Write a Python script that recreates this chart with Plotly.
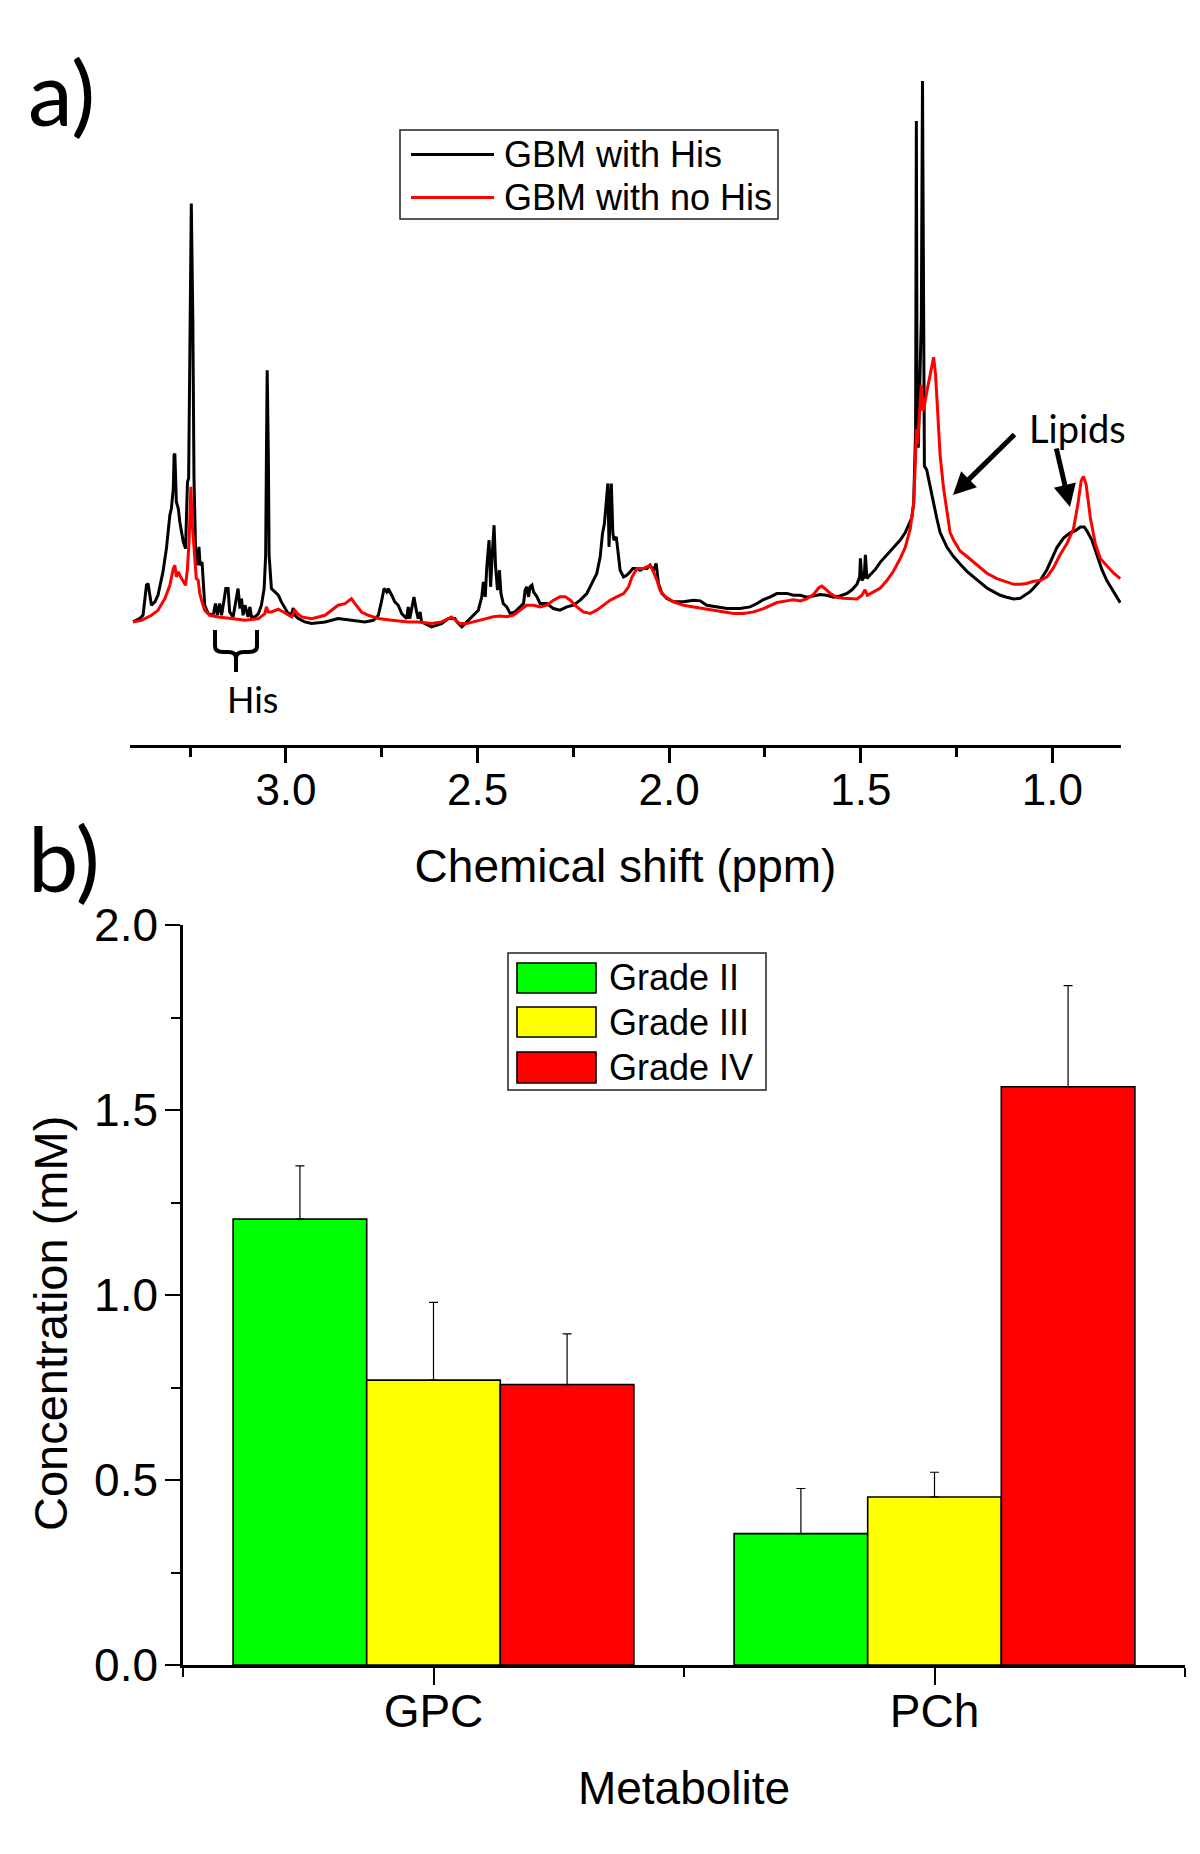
import plotly.graph_objects as go

# ---------------- Panel a: 1H spectra (chemical shift in ppm, intensity in a.u.) ----------------
black_ppm = [3.399, 3.382, 3.373, 3.364, 3.360, 3.355, 3.351, 3.347, 3.342, 3.334, 3.321, 3.312, 3.303, 3.299,
             3.294, 3.292, 3.290, 3.286, 3.281, 3.277, 3.268, 3.262, 3.257, 3.254, 3.250, 3.247, 3.243, 3.240,
             3.236, 3.231, 3.227, 3.224, 3.219, 3.215, 3.212, 3.203, 3.190, 3.184, 3.179, 3.173, 3.168, 3.161,
             3.157, 3.151, 3.147, 3.138, 3.125, 3.120, 3.116, 3.112, 3.107, 3.099, 3.094, 3.090, 3.081, 3.072,
             3.064, 3.057, 3.053, 3.051, 3.049, 3.046, 3.044, 3.038, 3.029, 3.020, 3.012, 3.003, 2.994, 2.985,
             2.981, 2.977, 2.968, 2.951, 2.933, 2.898, 2.864, 2.829, 2.794, 2.772, 2.759, 2.751, 2.744, 2.737,
             2.733, 2.724, 2.716, 2.707, 2.698, 2.685, 2.681, 2.677, 2.666, 2.659, 2.655, 2.650, 2.646, 2.637,
             2.620, 2.594, 2.576, 2.559,
             2.554, 2.541, 2.528, 2.515, 2.506, 2.498, 2.489, 2.485, 2.480, 2.476, 2.470, 2.466, 2.461, 2.457,
             2.453, 2.448, 2.443, 2.439, 2.433, 2.424, 2.415, 2.402, 2.389, 2.380, 2.376, 2.372, 2.367, 2.363,
             2.358, 2.354, 2.345, 2.337, 2.319, 2.302, 2.285, 2.267, 2.250, 2.232, 2.215, 2.198, 2.189, 2.180,
             2.174, 2.169, 2.164, 2.160, 2.157, 2.154, 2.151, 2.147, 2.144, 2.138, 2.134, 2.128, 2.119, 2.111,
             2.102, 2.095, 2.084, 2.076, 2.067, 2.058, 2.050, 2.041, 2.034, 2.028, 2.019, 2.006, 1.989, 1.963,
             1.936, 1.919, 1.902, 1.876, 1.849, 1.815, 1.789, 1.771, 1.754, 1.736, 1.719,
             1.693, 1.676, 1.658, 1.641, 1.624, 1.606, 1.589, 1.571, 1.554, 1.536, 1.523, 1.510, 1.503, 1.501,
             1.497, 1.491, 1.488, 1.484, 1.476, 1.462, 1.449, 1.432, 1.415, 1.397, 1.384, 1.375, 1.367, 1.362,
             1.359, 1.357, 1.355, 1.353, 1.350, 1.347, 1.342, 1.339, 1.336, 1.334, 1.328, 1.319, 1.310, 1.302,
             1.293, 1.275, 1.258, 1.241, 1.223, 1.206, 1.188, 1.171, 1.154, 1.136, 1.119, 1.101, 1.084, 1.067,
             1.058, 1.049, 1.032, 1.014, 1.001, 0.988, 0.971, 0.953, 0.940, 0.927, 0.917, 0.910, 0.897, 0.884,
             0.871, 0.858, 0.840, 0.823]
black_int = [104.1, 106.9, 109.7, 135.1, 136.5, 126.7, 118.2, 119.6, 121.0, 126.7, 146.4, 166.1, 194.3, 200.0,
             216.9, 245.1, 246.5, 205.6, 200.0, 188.7, 171.8, 166.1, 222.5, 225.4, 357.9, 458.0, 357.9, 225.4,
             166.1, 152.0, 167.5, 152.0, 154.8, 137.9, 118.2, 111.1, 109.7, 119.6, 109.7, 119.6, 109.7, 123.8,
             132.3, 132.3, 112.5, 108.3, 132.3, 115.4, 123.8, 109.7, 118.2, 108.3, 116.8, 108.3, 108.3, 111.1,
             118.2, 132.3, 160.5, 245.1, 317.0, 245.1, 160.5, 132.3, 129.5, 126.7, 121.0, 115.4, 111.1, 111.1,
             115.9, 109.7, 106.9, 104.1, 102.7, 104.1, 106.9, 105.5, 104.1, 105.5, 109.7, 121.0, 132.3, 129.5,
             132.3, 126.7, 121.0, 118.2, 111.1, 106.9, 116.8, 106.9, 125.2, 112.5, 106.9, 112.5, 104.1, 102.7,
             99.9, 102.7, 106.9, 106.9,
             104.1, 99.9, 104.1, 108.4, 111.2, 114.0, 125.3, 138.0, 125.3, 150.7, 173.2, 133.8, 164.8, 185.9,
             150.7, 130.9, 147.8, 128.1, 119.7, 116.8, 111.2, 112.6, 116.8, 119.7, 130.9, 133.8, 125.3, 133.8,
             135.2, 129.5, 125.3, 119.7, 119.7, 115.4, 114.0, 116.8, 118.2, 122.5, 128.1, 139.4, 145.0, 159.1,
             178.9, 187.3, 207.1, 221.2, 167.6, 201.4, 221.2, 178.9, 173.2, 176.0, 161.9, 147.8, 142.2, 143.6,
             146.4, 149.3, 149.3, 147.8, 149.3, 149.3, 152.1, 147.8, 153.5, 136.6, 128.1, 123.9, 121.1, 121.1,
             122.5, 121.9, 118.2, 116.8, 115.4, 115.4, 116.8, 119.7, 123.0, 125.3, 128.1,
             128.2, 126.6, 126.6, 125.0, 126.0, 127.2, 126.6, 125.0, 126.0, 128.2, 131.3, 135.9, 142.2, 157.8,
             139.1, 142.2, 160.9, 140.7, 143.8, 148.5, 154.7, 160.9, 167.2, 173.4, 179.7, 185.9, 192.2, 204.6,
             235.9, 267.1, 527.8, 267.1, 251.5, 298.3, 360.8, 561.5, 329.5, 235.9, 232.7, 217.1, 204.6, 192.2,
             179.7, 167.2, 159.4, 153.1, 146.9, 142.2, 137.5, 132.8, 129.7, 126.6, 125.0, 123.5, 124.1, 128.2,
             129.7, 132.8, 139.1, 148.5, 157.8, 167.2, 175.0, 179.7, 181.2, 184.4, 184.4, 181.2, 173.4, 160.9,
             148.5, 139.1, 129.7, 120.4]

red_ppm = [3.399, 3.377, 3.351, 3.334, 3.316, 3.303, 3.294, 3.290, 3.286, 3.281, 3.275, 3.268, 3.262, 3.257,
           3.253, 3.248, 3.245, 3.241, 3.238, 3.234, 3.229, 3.225, 3.219, 3.212, 3.199, 3.177, 3.142, 3.107,
           3.072, 3.055, 3.051, 3.046, 3.038, 3.020, 3.007, 2.994, 2.985, 2.977, 2.970, 2.959, 2.933, 2.898,
           2.881, 2.864, 2.846, 2.829, 2.820, 2.803, 2.785, 2.759, 2.724, 2.681, 2.655, 2.620, 2.594, 2.568,
           2.546, 2.528, 2.511, 2.493, 2.476, 2.459, 2.441, 2.424, 2.406, 2.389, 2.372, 2.354, 2.337, 2.319,
           2.302, 2.285, 2.271, 2.258, 2.241, 2.224, 2.206, 2.189, 2.171, 2.154, 2.137, 2.119, 2.106, 2.097,
           2.084, 2.067, 2.054, 2.050, 2.041, 2.032, 2.024, 2.010, 1.989, 1.963, 1.936, 1.910, 1.884, 1.858,
           1.832, 1.806, 1.780, 1.754, 1.736, 1.719,
           1.693, 1.676, 1.658, 1.641, 1.624, 1.610, 1.602, 1.593, 1.580, 1.563, 1.546, 1.528, 1.510, 1.497,
           1.489, 1.483, 1.467, 1.449, 1.432, 1.415, 1.397, 1.384, 1.371, 1.362, 1.358, 1.355, 1.352, 1.347,
           1.342, 1.338, 1.335, 1.328, 1.319, 1.310, 1.305, 1.300, 1.293, 1.284, 1.275, 1.267, 1.258, 1.241,
           1.223, 1.206, 1.188, 1.171, 1.145, 1.119, 1.101, 1.084, 1.067, 1.049, 1.032, 1.014, 0.997, 0.980,
           0.962, 0.945, 0.933, 0.925, 0.919, 0.912, 0.901, 0.888, 0.875, 0.858, 0.840, 0.823]
red_int = [104.1, 105.5, 109.7, 113.9, 123.8, 135.1, 149.2, 152.0, 142.2, 146.4, 142.2, 137.9, 135.1, 149.2,
           171.8, 218.3, 188.7, 171.8, 154.8, 140.8, 139.3, 128.1, 121.0, 113.9, 109.7, 108.3, 106.9, 105.5,
           106.9, 111.1, 116.8, 112.5, 112.5, 114.8, 112.5, 109.7, 108.3, 113.9, 111.1, 108.3, 106.9, 109.7,
           113.9, 118.2, 119.6, 123.8, 119.6, 112.5, 109.7, 106.9, 105.5, 104.1, 104.1, 102.7, 104.1, 108.3,
           102.7, 102.7, 104.1, 105.6, 107.0, 108.4, 109.0, 108.4, 109.8, 114.0, 118.2, 118.2, 116.8, 118.2,
           122.5, 125.3, 125.3, 122.5, 116.8, 112.6, 111.2, 114.0, 118.2, 122.5, 125.3, 128.1, 133.8, 142.2,
           149.3, 149.3, 151.2, 152.1, 146.4, 139.4, 130.9, 125.3, 121.1, 118.2, 116.8, 115.4, 114.0, 112.6,
           111.2, 111.2, 112.6, 115.4, 118.2, 120.5,
           121.9, 122.9, 121.9, 123.5, 127.2, 132.8, 134.4, 132.2, 128.2, 125.0, 124.1, 123.5, 123.5, 126.6,
           131.3, 126.6, 129.7, 132.8, 139.1, 146.9, 157.8, 167.2, 182.8, 204.6, 235.9, 267.1, 254.6, 282.7,
           304.6, 282.7, 285.8, 298.3, 313.9, 328.0, 313.9, 282.7, 245.2, 217.1, 195.3, 179.7, 173.4, 164.1,
           159.4, 154.7, 150.0, 145.3, 140.7, 137.5, 135.9, 135.9, 136.6, 138.5, 139.1, 142.2, 150.0, 160.9,
           170.3, 182.8, 204.6, 223.4, 227.1, 220.3, 192.2, 170.3, 157.8, 151.6, 145.3, 140.7]

spec_names = ["GBM with His", "GBM with no His"]
spec_colors = ["#000000", "#ff0000"]
a_tick_vals = [3.0, 2.5, 2.0, 1.5, 1.0]
a_tick_text = ["3.0", "2.5", "2.0", "1.5", "1.0"]
a_minor_vals = [3.25, 2.75, 2.25, 1.75, 1.25]

# ---------------- Panel b: metabolite concentrations (mM) ----------------
metabolites = ["GPC", "PCh"]
grades = ["Grade II", "Grade III", "Grade IV"]
grade2_mean = [1.205, 0.355]
grade3_mean = [0.770, 0.454]
grade4_mean = [0.758, 1.563]
grade2_err = [0.144, 0.122]
grade3_err = [0.210, 0.067]
grade4_err = [0.137, 0.273]
grade_colors = ["#00ff00", "#ffff00", "#ff0000"]
b_tick_vals = [0.0, 0.5, 1.0, 1.5, 2.0]
b_tick_text = ["0.0", "0.5", "1.0", "1.5", "2.0"]
b_minor_vals = [0.25, 0.75, 1.25, 1.75]

AXF = "Arial, Liberation Sans, Helvetica, sans-serif"
LBF = "Lato, Open Sans, sans-serif"

W, H, OFF = 1200, 1854, 8   # page body margin of the html page shifts the figure by OFF px


def X(px):
    return (px - OFF) / W


def Y(py):
    return 1 - (py - OFF) / H


fig = go.Figure()

for xs, ys, nm, col in zip([black_ppm, red_ppm], [black_int, red_int], spec_names, spec_colors):
    fig.add_trace(go.Scatter(x=xs, y=ys, mode="lines", name=nm,
                             line=dict(color=col, width=3), xaxis="x", yaxis="y",
                             showlegend=False))

positions = list(range(len(metabolites)))
for mean, err, nm, col in zip([grade2_mean, grade3_mean, grade4_mean],
                              [grade2_err, grade3_err, grade4_err], grades, grade_colors):
    fig.add_trace(go.Bar(x=positions, y=mean, name=nm,
                         marker=dict(color=col, line=dict(color="black", width=1.6)),
                         error_y=dict(type="data", array=err, arrayminus=[0] * len(err),
                                      symmetric=False, color="black", thickness=1.2, width=4.5),
                         xaxis="x2", yaxis="y2", showlegend=False))

shapes = []
annotations = []

# legend panel a
shapes.append(dict(type="rect", xref="paper", yref="paper", x0=X(400), x1=X(778), y0=Y(219), y1=Y(130),
                   line=dict(color="#222", width=1.5), fillcolor="rgba(0,0,0,0)"))
for i, (nm, col) in enumerate(zip(spec_names, spec_colors)):
    yy = Y([154.5, 197.5][i])
    shapes.append(dict(type="line", xref="paper", yref="paper", x0=X(411), x1=X(494), y0=yy, y1=yy,
                       line=dict(color=col, width=3)))
    annotations.append(dict(text=nm, xref="paper", yref="paper", x=X(502), y=yy, xanchor="left",
                            yanchor="middle", showarrow=False, font=dict(family=AXF, size=36, color="black")))

# legend panel b
for i, (nm, col) in enumerate(zip(grades, grade_colors)):
    top, bot = [(963, 993), (1007, 1037), (1052, 1083)][i]
    shapes.append(dict(type="rect", xref="paper", yref="paper", x0=X(517), x1=X(596), y0=Y(bot), y1=Y(top),
                       line=dict(color="black", width=1.6), fillcolor=col))
    annotations.append(dict(text=nm, xref="paper", yref="paper", x=X(607), y=Y((top + bot) / 2),
                            xanchor="left", yanchor="middle", showarrow=False,
                            font=dict(family=AXF, size=36, color="black")))
shapes.append(dict(type="rect", xref="paper", yref="paper", x0=X(508), x1=X(766), y0=Y(1090), y1=Y(953),
                   line=dict(color="#222", width=1.5), fillcolor="rgba(0,0,0,0)"))

# His bracket (curly brace under the histidine region)
xl, xm, xr = X(215), X(236), X(257)
yt, yh, yb = Y(630), Y(652), Y(672)
rx, ry = 8 / W, 6 / H
bracket = (f"M {xl},{yt} L {xl},{yh + ry} Q {xl},{yh} {xl + rx},{yh} L {xm - rx},{yh} "
           f"Q {xm},{yh} {xm},{yh - ry} L {xm},{yb} M {xm},{yh - ry} Q {xm},{yh} {xm + rx},{yh} "
           f"L {xr - rx},{yh} Q {xr},{yh} {xr},{yh + ry} L {xr},{yt}")
shapes.append(dict(type="path", xref="paper", yref="paper", path=bracket,
                   line=dict(color="black", width=4)))

annotations += [
    dict(text="a)", xref="paper", yref="paper", x=X(26), y=Y(91), xanchor="left", yanchor="middle",
         showarrow=False, font=dict(family=LBF, size=90, color="black")),
    dict(text="b)", xref="paper", yref="paper", x=X(26), y=Y(857), xanchor="left", yanchor="middle",
         showarrow=False, font=dict(family=LBF, size=90, color="black")),
    dict(text="His", xref="paper", yref="paper", x=X(252), y=Y(699), xanchor="center", yanchor="middle",
         showarrow=False, font=dict(family=LBF, size=36, color="black")),
    dict(text="Lipids", xref="paper", yref="paper", x=X(1077), y=Y(428), xanchor="center", yanchor="middle",
         showarrow=False, font=dict(family=LBF, size=38, color="black")),
    dict(text="", xref="paper", yref="paper", x=X(953), y=Y(495), ax=63, ay=-62, showarrow=True,
         arrowhead=2, arrowsize=0.9, arrowwidth=5, arrowcolor="black"),
    dict(text="", xref="paper", yref="paper", x=X(1070), y=Y(507), ax=-14, ay=-60, showarrow=True,
         arrowhead=2, arrowsize=0.9, arrowwidth=5, arrowcolor="black"),
    dict(text="Concentration (mM)", xref="paper", yref="paper", x=X(50), y=Y(1324), textangle=-90,
         xanchor="center", yanchor="middle", showarrow=False, font=dict(family=AXF, size=47, color="black")),
]

fig.update_layout(
    width=W, height=H,
    margin=dict(l=0, r=0, t=0, b=0, autoexpand=False),
    paper_bgcolor="white", plot_bgcolor="white",
    font=dict(family=AXF, color="black"),
    barmode="group", bargap=0.2, bargroupgap=0,
    showlegend=False,
    shapes=shapes, annotations=annotations,
    xaxis=dict(domain=[X(130), X(1121)], range=[3.407, 0.821], anchor="y",
               showline=True, linecolor="black", linewidth=3,
               ticks="outside", ticklen=15, tickwidth=2.5, tickcolor="black",
               tickmode="array", tickvals=a_tick_vals, ticktext=a_tick_text,
               tickfont=dict(family=AXF, size=44, color="black"), ticklabelstandoff=-11,
               minor=dict(tickmode="array", tickvals=a_minor_vals, ticks="outside", ticklen=9,
                          tickwidth=2.5, tickcolor="black", showgrid=False),
               showgrid=False, zeroline=False,
               title=dict(text="Chemical shift (ppm)", font=dict(family=AXF, size=46, color="black"),
                          standoff=38)),
    yaxis=dict(domain=[Y(745), Y(37)], range=[0, 598.8], visible=False, fixedrange=True),
    xaxis2=dict(domain=[X(183), X(1185)], range=[-0.5, 1.5], anchor="y2",
                showline=True, linecolor="black", linewidth=2.8,
                ticks="outside", ticklen=17, tickwidth=2.2, tickcolor="black",
                tickmode="array", tickvals=positions, ticktext=metabolites,
                tickfont=dict(family=AXF, size=46, color="black"), ticklabelstandoff=-13,
                minor=dict(tickmode="array", tickvals=[-0.5, 0.5, 1.5], ticks="outside", ticklen=9,
                           tickwidth=2.2, tickcolor="black", showgrid=False),
                showgrid=False, zeroline=False,
                title=dict(text="Metabolite", font=dict(family=AXF, size=46, color="black"),
                           standoff=36)),
    yaxis2=dict(domain=[Y(1665), Y(925)], range=[0, 2.0], anchor="x2",
                showline=True, linecolor="black", linewidth=2.5,
                ticks="outside", ticklen=15, tickwidth=2.2, tickcolor="black",
                tickmode="array", tickvals=b_tick_vals, ticktext=b_tick_text,
                tickfont=dict(family=AXF, size=46, color="black"), ticklabelstandoff=-2,
                minor=dict(tickmode="array", tickvals=b_minor_vals, ticks="outside", ticklen=9,
                           tickwidth=2.2, tickcolor="black", showgrid=False),
                showgrid=False, zeroline=False),
)

fig.write_html("out.html")
